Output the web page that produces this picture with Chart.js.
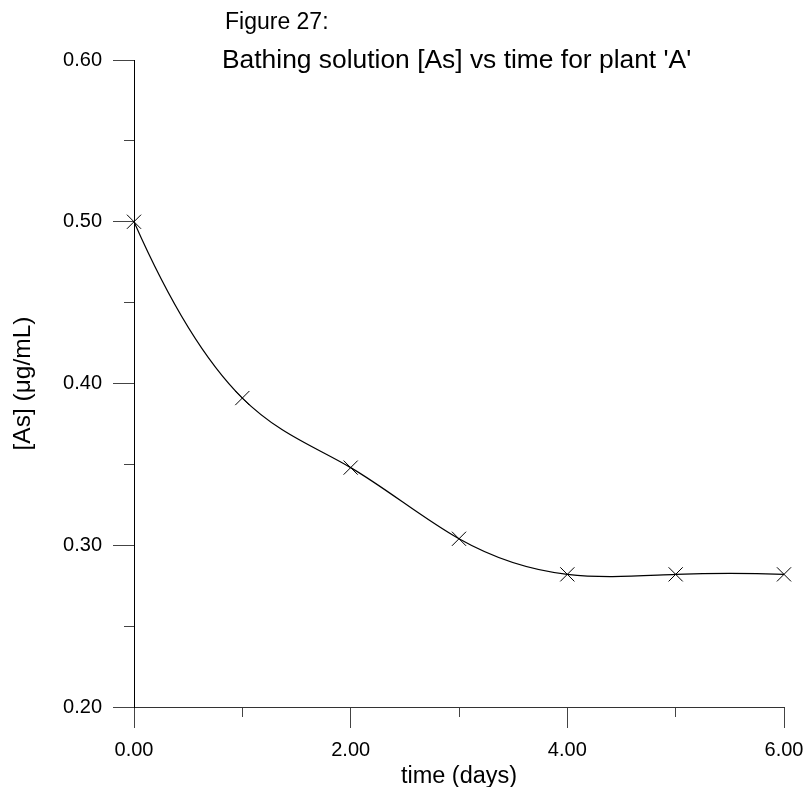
<!DOCTYPE html>
<html>
<head>
<meta charset="utf-8">
<title>Figure 27</title>
<script src="https://cdn.jsdelivr.net/npm/chart.js@4/dist/chart.umd.min.js"></script>
<style>
  html, body { margin: 0; padding: 0; background: #fff; }
  #wrap { width: 807px; height: 787px; position: relative; }
</style>
</head>
<body>
<div id="wrap"><canvas id="asChart" width="807" height="787"></canvas></div>
<script>
// time (days) and bathing solution [As] (ug/mL)
const days = [0, 1, 2, 3, 4, 5, 6]
const asConc = [0.500, 0.391, 0.348, 0.304, 0.282, 0.282, 0.282]

const figureLabel = 'Figure 27:'
const chartTitle = "Bathing solution [As] vs time for plant 'A'"
const xTitle = 'time (days)'
const yTitle = '[As] (\u03bcg/mL)'

const FONT = 'Arial, "Liberation Sans", Helvetica, sans-serif'

// cubic spline slopes (parabolic run-out ends), like the original plot package
function splineSlopes(x, y) {
  const n = x.length - 1
  const h = [], d = []
  for (let i = 0; i < n; i++) {
    h.push(x[i + 1] - x[i])
    d.push((y[i + 1] - y[i]) / h[i])
  }
  const M = new Array(n + 1).fill(0)
  if (n >= 2) {
    // rows for M1..M(n-1), with M0 = M1 and Mn = M(n-1)
    const a = [], b = [], c = [], r = []
    for (let i = 1; i < n; i++) {
      a.push(h[i - 1])
      b.push(2 * (h[i - 1] + h[i]))
      c.push(h[i])
      r.push(6 * (d[i] - d[i - 1]))
    }
    b[0] += a[0]
    b[b.length - 1] += c[c.length - 1]
    const m = b.length
    for (let i = 1; i < m; i++) {
      const w = a[i] / b[i - 1]
      b[i] -= w * c[i - 1]
      r[i] -= w * r[i - 1]
    }
    const sol = new Array(m)
    sol[m - 1] = r[m - 1] / b[m - 1]
    for (let i = m - 2; i >= 0; i--) sol[i] = (r[i] - c[i] * sol[i + 1]) / b[i]
    for (let i = 1; i < n; i++) M[i] = sol[i - 1]
    M[0] = M[1]
    M[n] = M[n - 1]
  }
  const s = []
  for (let i = 0; i < n; i++) s.push(d[i] - h[i] * (2 * M[i] + M[i + 1]) / 6)
  s.push(d[n - 1] + h[n - 1] * (M[n - 1] + 2 * M[n]) / 6)
  return s
}

const slopes = splineSlopes(days, asConc)

const splinePlugin = {
  id: 'splineCurve',
  beforeDatasetDraw(chart, args) {
    const meta = args.meta
    const pts = meta.data
    const xs = chart.scales.x
    const ys = chart.scales.y
    for (let i = 0; i < pts.length; i++) {
      if (i < pts.length - 1) {
        const h = days[i + 1] - days[i]
        pts[i].cp2x = xs.getPixelForValue(days[i] + h / 3)
        pts[i].cp2y = ys.getPixelForValue(asConc[i] + slopes[i] * h / 3)
      }
      if (i > 0) {
        const h = days[i] - days[i - 1]
        pts[i].cp1x = xs.getPixelForValue(days[i] - h / 3)
        pts[i].cp1y = ys.getPixelForValue(asConc[i] - slopes[i] * h / 3)
      }
    }
    meta.dataset._pointsUpdated = true
    meta.dataset._path = undefined
  },
}

// titles sit inside the plot box in the original, so draw them by hand
const titlePlugin = {
  id: 'figTitles',
  afterDraw(chart) {
    const ctx = chart.ctx
    ctx.save()
    ctx.fillStyle = '#000'
    ctx.textBaseline = 'alphabetic'
    ctx.textAlign = 'left'
    ctx.font = '23px ' + FONT
    ctx.fillText(figureLabel, 225, 29)
    ctx.font = '26.4px ' + FONT
    ctx.fillText(chartTitle, 222, 68)
    ctx.restore()
  },
}

const ctx = document.getElementById('asChart').getContext('2d')
new Chart(ctx, {
  type: 'line',
  data: {
    datasets: [
      {
        data: days.map((d, i) => ({ x: d, y: asConc[i] })),
        borderColor: '#000',
        borderWidth: 1.2,
        tension: 0.4,
        fill: false,
        clip: false,
        pointStyle: 'crossRot',
        pointRadius: 10,
        pointHoverRadius: 10,
        pointBorderColor: '#000',
        pointBorderWidth: 1,
        pointBackgroundColor: '#000',
      },
    ],
  },
  options: {
    responsive: false,
    animation: false,
    events: [],
    layout: { padding: { top: 60, right: 23, bottom: 0, left: 0 } },
    plugins: {
      legend: { display: false },
      title: { display: false },
      tooltip: { enabled: false },
    },
    scales: {
      x: {
        type: 'linear',
        position: 'bottom',
        weight: 1,
        min: 0,
        max: 6,
        afterFit: (s) => { s.height = 80; s.paddingLeft = 0; s.paddingRight = 0 },
        border: { display: true, color: '#333', width: 1 },
        grid: { display: true, drawOnChartArea: false, drawTicks: true, tickLength: 21, tickColor: '#444', tickWidth: 1 },
        ticks: {
          stepSize: 2,
          padding: 10,
          color: '#000',
          font: { family: FONT, size: 20 },
          maxRotation: 0,
          callback: (v) => Number(v).toFixed(2),
        },
        title: {
          display: true,
          text: xTitle,
          color: '#000',
          font: { family: FONT, size: 23.5, lineHeight: 1 },
          padding: { top: 0, bottom: -1 },
        },
      },
      xMinor: {
        type: 'linear',
        position: 'bottom',
        weight: 0,
        min: 0,
        max: 6,
        afterFit: (s) => { s.height = 0; s.paddingLeft = 0; s.paddingRight = 0 },
        border: { display: false },
        grid: { display: true, drawOnChartArea: false, drawTicks: true, tickLength: 10, tickColor: '#444', tickWidth: 1 },
        ticks: { stepSize: 1, display: false },
      },
      y: {
        type: 'linear',
        position: 'left',
        weight: 1,
        min: 0.2,
        max: 0.6,
        afterFit: (s) => { s.width = 134; s.paddingTop = 0; s.paddingBottom = 0 },
        border: { display: true, color: '#000', width: 1 },
        grid: { display: true, drawOnChartArea: false, drawTicks: true, tickLength: 21, tickColor: '#444', tickWidth: 1 },
        ticks: {
          stepSize: 0.1,
          padding: 11,
          color: '#000',
          font: { family: FONT, size: 20 },
          callback: (v) => Number(v).toFixed(2),
        },
        title: {
          display: true,
          text: yTitle,
          color: '#000',
          font: { family: FONT, size: 24.5, lineHeight: 1 },
          padding: { top: 11, bottom: 0 },
        },
      },
      yMinor: {
        type: 'linear',
        position: 'left',
        weight: 0,
        min: 0.2,
        max: 0.6,
        afterFit: (s) => { s.width = 0; s.paddingTop = 0; s.paddingBottom = 0 },
        border: { display: false },
        grid: { display: true, drawOnChartArea: false, drawTicks: true, tickLength: 10, tickColor: '#444', tickWidth: 1 },
        ticks: { stepSize: 0.05, display: false },
      },
    },
  },
  plugins: [splinePlugin, titlePlugin],
})
</script>
</body>
</html>
